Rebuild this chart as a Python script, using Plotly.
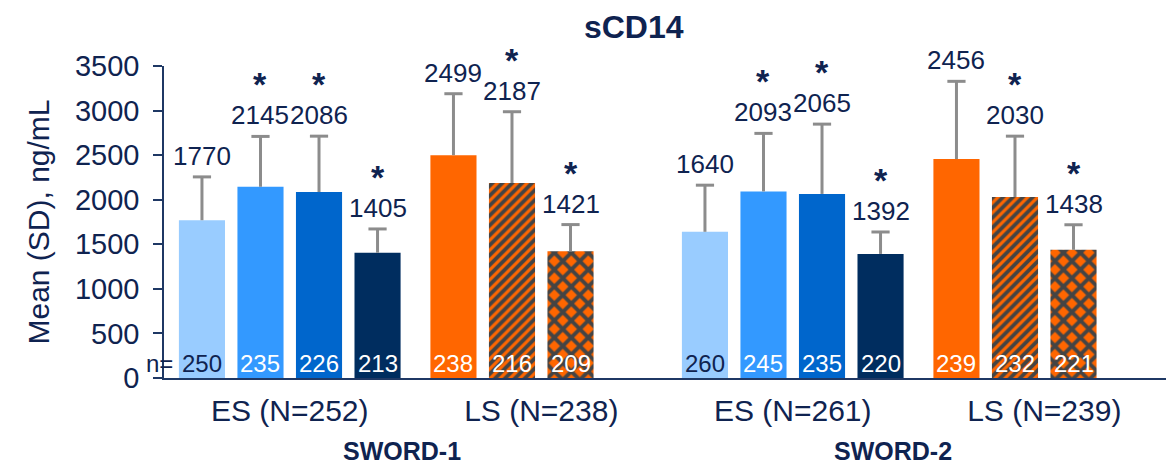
import plotly.graph_objects as go

# ---------------- data ----------------
categories = ["ES (N=252)", "LS (N=238)", "ES (N=261)", "LS (N=239)"]
studies = ["SWORD-1", "SWORD-2"]
is_ls = [False, True, False, True]

# one list per bar slot within a category (None = no bar)
means_1 = [1770, 2499, 1640, 2456]
means_2 = [2145, 2187, 2093, 2030]
means_3 = [2086, 1421, 2065, 1438]
means_4 = [1405, None, 1392, None]

sds_1 = [486, 690, 523, 872]
sds_2 = [565, 800, 651, 683]
sds_3 = [627, 300, 783, 281]
sds_4 = [267, None, 246, None]

ns_1 = [250, 238, 260, 239]
ns_2 = [235, 216, 245, 232]
ns_3 = [226, 209, 235, 221]
ns_4 = [213, None, 220, None]

sig_1 = [False, False, False, False]
sig_2 = [True, True, True, True]
sig_3 = [True, True, True, True]
sig_4 = [True, False, True, False]

means = [means_1, means_2, means_3, means_4]
sds = [sds_1, sds_2, sds_3, sds_4]
ns = [ns_1, ns_2, ns_3, ns_4]
sigs = [sig_1, sig_2, sig_3, sig_4]

# ---------------- styles ----------------
FONT = "Arial, Liberation Sans, sans-serif"
TXT = "#0F2350"
AXIS = "#1F3864"
ES_COLORS = ["#99CCFF", "#3399FF", "#0066CC", "#002D5F"]
ORANGE = "#FF6600"
NAVY = "#002D5F"
LS_SHAPES = ["", "/", "x", ""]
LS_SIZES = [8, 7, 12, 8]
LS_SOLID = [0.3, 0.55, 0.55, 0.3]
ERR = "#8C8C8C"

SLOT = 0.2327
BW = 0.1833

fig = go.Figure()
annotations = []

err_x, err_y, cap_x, cap_y = [], [], [], []

for j in range(4):
    xs, ys, colors, shapes, sizes, solid = [], [], [], [], [], []
    for i in range(4):
        m = means[j][i]
        if m is None:
            continue
        x = i + (j - 1.5) * SLOT
        xs.append(x)
        ys.append(m)
        if is_ls[i]:
            colors.append(ORANGE)
            shapes.append(LS_SHAPES[j])
        else:
            colors.append(ES_COLORS[j])
            shapes.append("")
        sizes.append(LS_SIZES[j])
        solid.append(LS_SOLID[j])
        top = m + sds[j][i]
        err_x += [x, x, None]
        err_y += [m, top, None]
        cap_x.append(x)
        cap_y.append(top)
        annotations.append(dict(x=x, y=top, xref="x", yref="y", text=str(m),
                                showarrow=False, yanchor="bottom", yshift=4,
                                font=dict(size=26, color=TXT, family=FONT)))
        if sigs[j][i]:
            annotations.append(dict(x=x, y=top, xref="x", yref="y", text="<b>*</b>",
                                    showarrow=False, yanchor="bottom", yshift=31,
                                    font=dict(size=34, color=TXT, family=FONT)))
        ncol = TXT if (j == 0 and not is_ls[i]) else "white"
        annotations.append(dict(x=x, y=0, xref="x", yref="y", text=str(ns[j][i]),
                                showarrow=False, yanchor="bottom", yshift=-1,
                                font=dict(size=24, color=ncol, family=FONT)))
    fig.add_trace(go.Bar(
        x=xs, y=ys, width=BW, showlegend=False, hoverinfo="skip",
        marker=dict(color=colors, line=dict(width=0),
                    pattern=dict(shape=shapes, fgcolor=NAVY, fgopacity=1,
                                 fillmode="overlay", size=sizes, solidity=solid)),
    ))

fig.add_trace(go.Scatter(x=err_x, y=err_y, mode="lines", showlegend=False,
                         hoverinfo="skip", line=dict(color=ERR, width=3)))
fig.add_trace(go.Scatter(x=cap_x, y=cap_y, mode="markers", showlegend=False,
                         hoverinfo="skip",
                         marker=dict(symbol="line-ew", size=13,
                                     line=dict(color=ERR, width=3))))

# "n=" label to the left of the first bar
annotations.append(dict(x=0 - 1.5 * SLOT, y=0, xref="x", yref="y", text="n=",
                        showarrow=False, yanchor="bottom", yshift=-1, xshift=-42,
                        font=dict(size=24, color=TXT, family=FONT)))

# study labels
for k, s in enumerate(studies):
    annotations.append(dict(x=[0.2366, 0.7247][k], y=-0.234, xref="paper", yref="paper",
                            text="<b>%s</b>" % s, showarrow=False,
                            xanchor="center", yanchor="middle",
                            font=dict(size=25, color=TXT, family=FONT)))

fig.update_layout(
    width=1174, height=469,
    margin=dict(l=156, r=12, t=58, b=99),
    paper_bgcolor="white", plot_bgcolor="white",
    barmode="overlay",
    title=dict(text="<b>sCD14</b>", x=0.533, xanchor="center", y=0.96, yanchor="middle",
               font=dict(size=32, color=TXT, family=FONT)),
    xaxis=dict(range=[-0.5, 3.5], tickvals=[0, 1, 2, 3], ticktext=categories,
               showline=True, linecolor=AXIS, linewidth=2, ticks="",
               showgrid=False, zeroline=False, ticklabelstandoff=5,
               tickfont=dict(size=30, color=TXT, family=FONT)),
    yaxis=dict(range=[0, 3500], tickvals=list(range(0, 3501, 500)),
               showline=True, linecolor=AXIS, linewidth=1.5, ticks="outside",
               ticklen=9, tickwidth=1.5, tickcolor=AXIS, showgrid=False, zeroline=False,
               ticklabelstandoff=8,
               tickfont=dict(size=29, color=TXT, family=FONT)),
    annotations=annotations,
)
fig.update_yaxes(title=dict(text="Mean (SD), ng/mL", standoff=16,
                            font=dict(size=30, color=TXT, family=FONT)))

fig.write_html("out.html")
